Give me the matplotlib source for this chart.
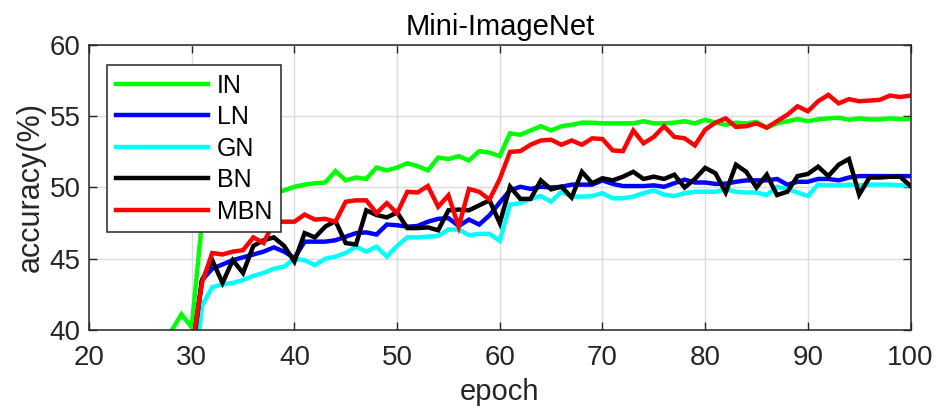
import numpy as np
import matplotlib
matplotlib.use("Agg")
import matplotlib.pyplot as plt
from matplotlib.ticker import MultipleLocator

plt.rcParams['font.family'] = ['Liberation Sans', 'DejaVu Sans']

# ---------------------- Data ----------------------
epoch_in = np.arange(27, 101)
epoch = np.arange(30, 101)

acc_in = [38.0, 39.9, 41.1, 40.2, 47.6, 48.3, 48.7, 49.0, 49.2, 49.4,
          49.5, 49.6, 49.8, 50.05, 50.2, 50.3, 50.35, 51.15, 50.5, 50.7,
          50.6, 51.4, 51.2, 51.4, 51.7, 51.5, 51.2, 52.1, 52.0, 52.2,
          51.9, 52.55, 52.45, 52.2, 53.8, 53.7, 54.0, 54.3, 54.0, 54.3,
          54.4, 54.55, 54.55, 54.5, 54.5, 54.5, 54.5, 54.65, 54.5, 54.5,
          54.55, 54.65, 54.5, 54.75, 54.55, 54.4, 54.55, 54.5, 54.6, 54.2,
          54.5, 54.65, 54.8, 54.65, 54.78, 54.85, 54.9, 54.75, 54.85, 54.78,
          54.78, 54.85, 54.8, 54.8]

acc_ln = [38.3, 43.5, 44.3, 44.6, 44.9, 45.1, 45.3, 45.5, 45.8, 45.5,
          45.05, 46.2, 46.2, 46.2, 46.3, 46.55, 46.8, 46.85, 46.7, 47.4,
          47.35, 47.25, 47.3, 47.6, 47.8, 47.85, 47.3, 47.75, 47.4, 48.05,
          48.95, 49.8, 50.05, 49.9, 50.05, 50.0, 50.05, 50.2, 50.2, 50.2,
          50.5, 50.25, 50.1, 50.1, 50.1, 50.15, 50.05, 50.3, 50.55, 50.35,
          50.35, 50.25, 50.27, 50.4, 50.5, 50.5, 50.5, 50.6, 50.2, 50.4,
          50.4, 50.6, 50.6, 50.5, 50.7, 50.8, 50.8, 50.8, 50.8, 50.8,
          50.8]

acc_gn = [35.0, 41.7, 43.0, 43.2, 43.3, 43.5, 43.8, 44.0, 44.3, 44.45,
          45.0, 44.9, 44.55, 45.0, 45.15, 45.4, 45.85, 45.5, 45.85, 45.15,
          45.9, 46.5, 46.5, 46.55, 46.6, 47.05, 47.05, 46.65, 46.75, 46.75,
          46.25, 48.8, 48.9, 49.2, 49.4, 49.0, 49.7, 49.36, 49.36, 49.4,
          49.6, 49.24, 49.24, 49.36, 49.6, 49.8, 49.5, 49.4, 49.6, 49.7,
          49.7, 49.7, 49.87, 49.7, 49.65, 49.65, 49.47, 50.05, 49.9, 49.65,
          49.4, 50.2, 50.15, 50.15, 50.2, 50.15, 50.2, 50.2, 50.2, 50.15,
          50.15]

acc_bn = [38.0, 43.5, 44.9, 43.3, 44.9, 44.0, 45.9, 46.3, 46.5, 45.9,
          44.8, 46.8, 46.5, 47.25, 47.65, 46.1, 46.0, 48.4, 48.07, 47.9,
          48.25, 47.15, 47.15, 47.2, 47.0, 48.4, 48.45, 48.4, 48.75, 49.1,
          47.5, 50.06, 49.2, 49.2, 50.5, 49.87, 50.06, 49.3, 51.1, 50.3,
          50.65, 50.5, 50.76, 51.1, 50.6, 50.76, 50.6, 50.9, 50.0, 50.6,
          51.38, 51.0, 49.65, 51.6, 51.1, 50.0, 50.9, 49.47, 49.7, 50.8,
          50.95, 51.46, 50.8, 51.6, 52.0, 49.5, 50.7, 50.7, 50.75, 50.75,
          50.1]

acc_mbn = [38.5, 43.3, 45.4, 45.3, 45.5, 45.6, 46.5, 46.1, 47.6, 47.6,
           47.6, 48.1, 47.75, 47.8, 47.6, 49.0, 49.1, 49.1, 48.2, 48.9,
           48.2, 49.7, 49.65, 50.1, 48.65, 49.45, 47.25, 49.9, 49.7, 49.15,
           50.6, 52.5, 52.55, 53.0, 53.3, 53.35, 53.0, 53.3, 53.0, 53.45,
           53.4, 52.6, 52.55, 54.0, 53.1, 53.55, 54.3, 53.55, 53.45, 52.95,
           54.05, 54.55, 54.85, 54.25, 54.3, 54.5, 54.2, 54.65, 55.1, 55.7,
           55.35, 56.05, 56.5, 55.9, 56.2, 56.05, 56.1, 56.15, 56.45, 56.35,
           56.45]

labels = ['IN', 'LN', 'GN', 'BN', 'MBN']
colors = ['#00ff00', '#0000ff', '#00ffff', '#000000', '#ff0000']

# ---------------------- Plot ----------------------
fig = plt.figure(figsize=(9.36, 4.15), dpi=100)
ax = fig.add_axes([0.0951, 0.2048, 0.8777, 0.6868])

series = [(epoch_in, acc_in), (epoch, acc_ln), (epoch, acc_gn),
          (epoch, acc_bn), (epoch, acc_mbn)]
for (x, y), lab, c in zip(series, labels, colors):
    ax.plot(x, y, color=c, lw=3.2, label=lab, solid_joinstyle='miter')

ax.set_xlim(20, 100)
ax.set_ylim(40, 60)
ax.xaxis.set_major_locator(MultipleLocator(10))
ax.yaxis.set_major_locator(MultipleLocator(5))

ax.grid(True, color='#dcdcdc', lw=1.0)
ax.set_axisbelow(True)

dark = '#262626'
for sp in ax.spines.values():
    sp.set_color(dark)
    sp.set_linewidth(1.1)
ax.tick_params(direction='in', length=6, width=1.0, color=dark,
               top=True, right=True, labelsize=20, labelcolor=dark)
ax.tick_params(axis='x', pad=11)
ax.tick_params(axis='y', pad=6)

ax.set_title('Mini-ImageNet', fontsize=21, color='black', pad=7)
ax.set_xlabel('epoch', fontsize=21, color=dark, labelpad=5)
ax.set_ylabel('accuracy(%)', fontsize=22, color=dark, labelpad=3)

leg = ax.legend(loc='upper left', bbox_to_anchor=(0.022, 0.93),
                borderaxespad=0, fontsize=18, frameon=True, fancybox=False,
                handlelength=3.7, handletextpad=0.35, labelspacing=0.3,
                borderpad=0.35)
leg.get_frame().set_edgecolor(dark)
leg.get_frame().set_linewidth(1.1)
leg.get_frame().set_alpha(1)

plt.savefig('out.png', dpi=100)
